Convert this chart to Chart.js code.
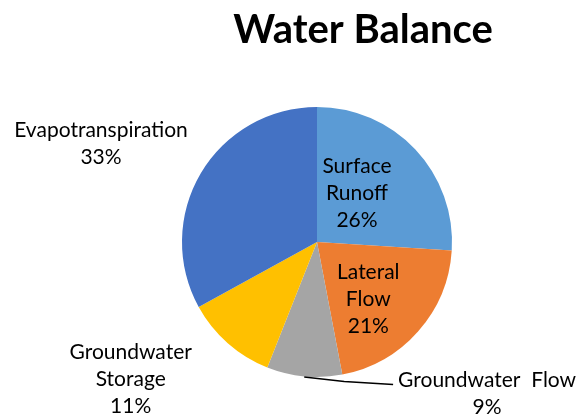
<!DOCTYPE html>
<html>
<head>
<meta charset="utf-8">
<script src="https://cdn.jsdelivr.net/npm/chart.js@4/dist/chart.umd.min.js"></script>
<style>
  html, body { margin: 0; padding: 0; background: #fff; }
  #wrap { width: 587px; height: 420px; position: relative; }
</style>
</head>
<body>
<div id="wrap"><canvas id="c" width="587" height="420"></canvas></div>
<script>
const categories = ['Surface Runoff', 'Lateral Flow', 'Groundwater Flow', 'Groundwater Storage', 'Evapotranspiration'];
const values = [26, 21, 9, 11, 33];
const labelLines = [
  ['Surface', 'Runoff'],
  ['Lateral', 'Flow'],
  ['Groundwater  Flow'],
  ['Groundwater', 'Storage'],
  ['Evapotranspiration']
];
const titleText = 'Water Balance';

const colors = ['#5B9BD5', '#ED7D31', '#A5A5A5', '#FFC000', '#4472C4'];
const FONT = 'Lato, "Open Sans", sans-serif';
// placement: inside -> radial fraction; outside -> offset from centre in units of radius
const placement = [
  { mode: 'inside', rf: 0.53, dx: -0.09 },
  { mode: 'inside', rf: 0.64, dx: -0.1 },
  { mode: 'outside', ox: 1.26, oy: 1.126, leader: true },
  { mode: 'outside', ox: -1.38, oy: 1.02 },
  { mode: 'outside', ox: -1.6, oy: -0.73 }
];

const labelPlugin = {
  id: 'pieLabels',
  afterDatasetsDraw(chart) {
    const ctx = chart.ctx;
    const meta = chart.getDatasetMeta(0);
    const total = values.reduce((a, b) => a + b, 0);
    const lineH = 27;
    ctx.save();
    ctx.font = '21px ' + FONT;
    ctx.fillStyle = '#000';
    ctx.textAlign = 'center';
    ctx.textBaseline = 'middle';
    meta.data.forEach((arc, i) => {
      const p = arc.getProps(['x', 'y', 'startAngle', 'endAngle', 'outerRadius']);
      const mid = (p.startAngle + p.endAngle) / 2;
      const r = p.outerRadius;
      const pct = Math.round(values[i] / total * 100) + '%';
      const lines = labelLines[i].concat([pct]);
      const pl = placement[i];
      let cx, cy;
      if (pl.mode === 'inside') {
        cx = p.x + Math.cos(mid) * r * pl.rf + pl.dx * r;
        cy = p.y + Math.sin(mid) * r * pl.rf;
      } else {
        cx = p.x + pl.ox * r;
        cy = p.y + pl.oy * r;
      }
      const top = cy - (lines.length - 1) * lineH / 2;
      if (pl.leader) {
        const sx = p.x + Math.cos(mid) * r * 1.005;
        const sy = p.y + Math.sin(mid) * r * 1.005;
        const tw = ctx.measureText(lines[0]).width;
        const ex = cx - tw / 2 - 5;
        const ey = top + 4;
        ctx.beginPath();
        ctx.strokeStyle = '#000';
        ctx.lineWidth = 1.5;
        ctx.moveTo(sx, sy);
        ctx.lineTo(sx + (ex - sx) * 0.45, sy + (ey - sy) * 0.6);
        ctx.lineTo(ex, ey);
        ctx.stroke();
      }
      lines.forEach((t, k) => ctx.fillText(t, cx, top + k * lineH));
    });
    // title
    ctx.font = 'bold 40px ' + FONT;
    ctx.fillStyle = '#000';
    ctx.fillText(titleText, 363, 30);
    ctx.restore();
  }
};

new Chart(document.getElementById('c'), {
  type: 'pie',
  data: {
    labels: categories,
    datasets: [{
      data: values,
      backgroundColor: colors,
      borderWidth: 0
    }]
  },
  options: {
    responsive: false,
    animation: false,
    layout: { padding: { left: 182, right: 135, top: 107, bottom: 43 } },
    plugins: {
      legend: { display: false },
      tooltip: { enabled: false },
      title: { display: false }
    }
  },
  plugins: [labelPlugin]
});
</script>
</body>
</html>
